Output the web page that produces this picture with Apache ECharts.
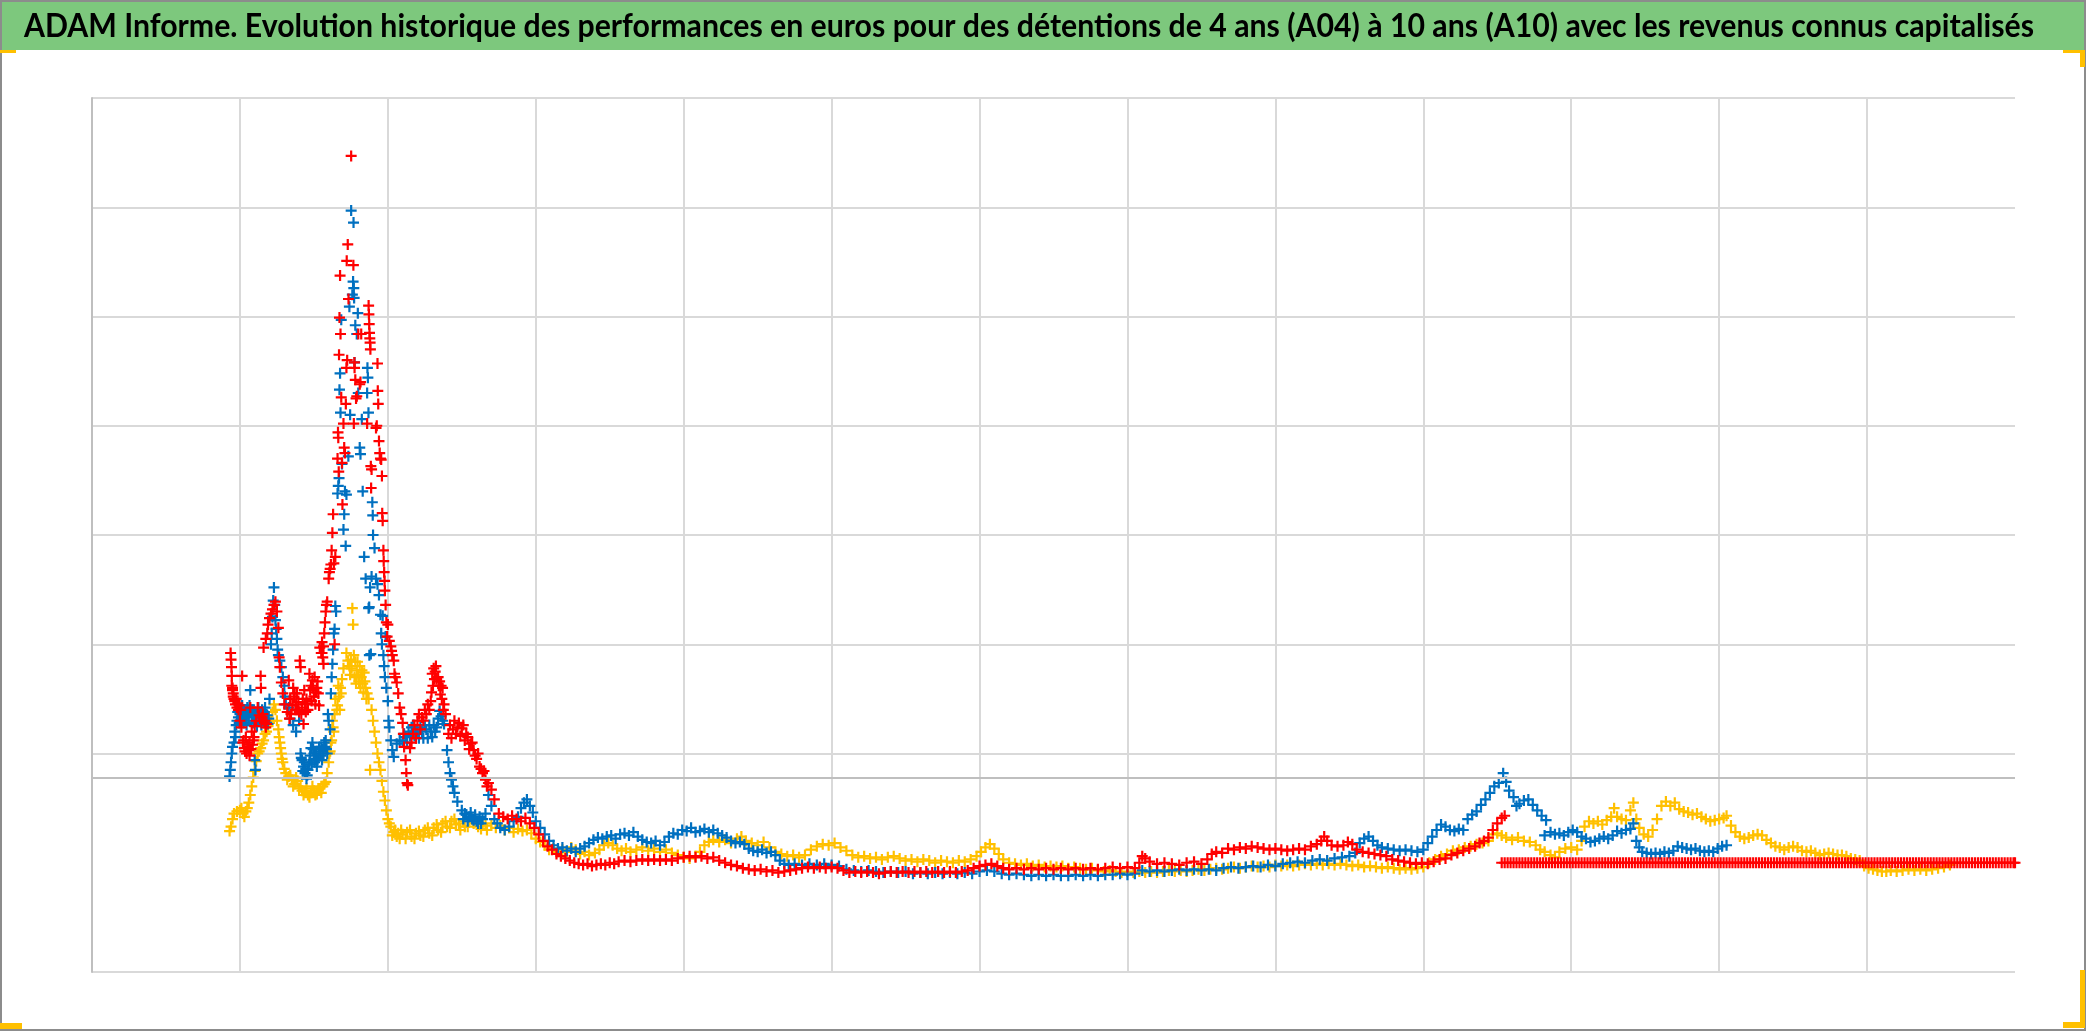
<!DOCTYPE html>
<html>
<head>
<meta charset="utf-8">
<script src="https://cdn.jsdelivr.net/npm/echarts/dist/echarts.min.js"></script>
<style>
html,body{margin:0;padding:0;background:#fff;}
#chart{width:2086px;height:1031px;}
</style>
</head>
<body>
<div id="chart"></div>
<script>
// ---------------- DATA ----------------
const TITLE = "ADAM Informe. Evolution historique des performances en euros pour des détentions de 4 ans (A04) à 10 ans (A10) avec les revenus connus capitalisés";

// value axes (no labels are shown on the reference)
const X_MIN = 0, X_MAX = 13, X_STEP = 1;
const Y_MIN = 0, Y_MAX = 8, Y_STEP = 1;
const BASE_LINE = 1.78;      // darker horizontal reference line
const HIDDEN_GRID_VALUE = 1; // this grid line is not drawn on the reference

const serieNames = ["A04", "A07", "A10"];

const yellowData = [
[0.93,1.29],[0.94,1.33],[0.95,1.40],[0.96,1.45],[0.98,1.47],[1.00,1.48],[1.02,1.45],[1.04,1.47],[1.06,1.55],[1.07,1.62],[1.08,1.70],[1.09,1.78],[1.10,1.84],[1.11,1.93],[1.12,2.00],[1.14,2.05],[1.15,2.09],[1.17,2.18],[1.19,2.25],[1.21,2.30],[1.22,2.38],[1.23,2.45],[1.24,2.40],[1.25,2.30],[1.26,2.22],[1.27,2.10],[1.28,2.00],[1.29,1.92],[1.30,1.86],[1.31,1.82],[1.33,1.79],[1.35,1.76],[1.37,1.72],[1.39,1.75],[1.40,1.68],[1.42,1.66],[1.44,1.65],[1.46,1.62],[1.48,1.64],[1.50,1.66],[1.52,1.63],[1.54,1.68],[1.56,1.70],[1.58,1.74],[1.59,1.82],[1.60,1.92],[1.61,2.02],[1.62,2.12],[1.63,2.24],[1.64,2.36],[1.66,2.44],[1.67,2.52],[1.68,2.60],[1.69,2.68],[1.70,2.78],[1.72,2.92],[1.73,2.85],[1.74,2.80],[1.75,2.86],[1.76,3.33],[1.765,3.18],[1.77,2.90],[1.78,2.84],[1.79,2.76],[1.80,2.72],[1.81,2.80],[1.82,2.70],[1.83,2.64],[1.84,2.74],[1.85,2.60],[1.86,2.55],[1.87,2.50],[1.88,1.85],[1.89,2.40],[1.90,2.30],[1.91,2.20],[1.92,2.10],[1.93,2.00],[1.94,1.92],[1.95,1.85],[1.96,1.75],[1.97,1.65],[1.98,1.57],[1.99,1.48],[2.00,1.40],[2.02,1.33],[2.04,1.28],[2.06,1.24],[2.08,1.22],[2.10,1.26],[2.13,1.28],[2.16,1.24],[2.19,1.27],[2.22,1.25],[2.25,1.30],[2.28,1.27],[2.31,1.32],[2.34,1.30],[2.37,1.36],[2.40,1.33],[2.43,1.38],[2.46,1.35],[2.49,1.30],[2.52,1.33],[2.55,1.39],[2.58,1.36],[2.61,1.33],[2.64,1.35],[2.67,1.30],
[1.01,1.50],[1.03,1.42],[1.05,1.50],[1.13,2.02],[1.16,2.12],[1.18,2.20],[1.20,2.28],[1.265,2.15],[1.275,2.05],[1.285,1.95],[1.32,1.76],[1.34,1.80],[1.36,1.70],[1.38,1.78],
[1.41,1.70],[1.43,1.62],[1.45,1.68],[1.47,1.60],[1.49,1.70],[1.51,1.62],[1.53,1.68],[1.55,1.64],[1.57,1.72],
[1.605,2.00],[1.615,2.10],[1.625,2.30],[1.635,2.20],[1.645,2.50],[1.655,2.40],[1.665,2.62],[1.675,2.40],[1.685,2.55],
[1.745,2.72],[1.755,2.78],[1.775,2.70],[1.785,2.64],[1.795,2.84],[1.805,2.66],[1.815,2.60],[1.825,2.76],[1.835,2.56],[1.845,2.66],[1.855,2.50],
[2.01,1.36],[2.03,1.25],[2.05,1.30],[2.07,1.27],[2.09,1.30],[2.12,1.22],[2.15,1.30],[2.18,1.22],[2.21,1.29],[2.24,1.24],[2.27,1.32],[2.30,1.25],[2.33,1.35],[2.36,1.28],[2.39,1.38],[2.42,1.32],[2.45,1.40],[2.48,1.36],[2.51,1.38],[2.54,1.33],[2.57,1.40],[2.60,1.38],[2.63,1.31],[2.66,1.34],
[2.70,1.36],[2.73,1.32],[2.76,1.34],[2.79,1.30],[2.82,1.32],[2.85,1.28],[2.88,1.31],[2.91,1.29],[2.94,1.30],[2.97,1.27],[3.00,1.22],[3.03,1.19],[3.06,1.16],[3.09,1.12],[3.12,1.13],[3.15,1.10],[3.18,1.12],[3.21,1.10],[3.24,1.14],[3.27,1.12],[3.30,1.08],[3.33,1.10],[3.36,1.07],[3.40,1.09],[3.43,1.12],[3.46,1.16],[3.49,1.18],[3.52,1.16],[3.55,1.13],[3.58,1.11],[3.61,1.13],[3.64,1.10],[3.68,1.12],[3.72,1.14],[3.76,1.11],[3.80,1.13],[3.84,1.10],[3.88,1.12],[3.92,1.09],[3.96,1.07],[4.00,1.05],[4.04,1.04],[4.08,1.06],[4.11,1.10],[4.14,1.16],[4.17,1.19],[4.20,1.21],[4.24,1.19],[4.28,1.21],[4.32,1.18],[4.36,1.22],[4.39,1.24],[4.42,1.20],[4.46,1.18],[4.50,1.16],[4.54,1.19],[4.58,1.14],[4.62,1.10],[4.66,1.08],[4.70,1.06],[4.74,1.07],[4.78,1.05],[4.82,1.07],[4.86,1.12],[4.90,1.15],[4.94,1.17],[4.98,1.16],[5.02,1.18],[5.06,1.14],[5.10,1.11],[5.14,1.07],[5.18,1.05],[5.22,1.06],[5.26,1.04],[5.30,1.05],[5.34,1.03],[5.38,1.05],[5.42,1.06],[5.46,1.04],[5.50,1.02],[5.54,1.03],[5.58,1.01],[5.62,1.03],[5.66,1.02],[5.70,1.00],[5.74,1.02],[5.78,1.01],[5.82,1.00],[5.86,1.02],[5.90,1.01],[5.94,1.03],[5.98,1.06],[6.01,1.10],[6.04,1.14],[6.07,1.17],[6.10,1.13],[6.13,1.08],[6.16,1.03],[6.20,1.00],[6.24,0.99],[6.28,0.98],[6.32,0.99],[6.36,0.97],[6.40,0.98],[6.44,0.96],[6.48,0.97],[6.52,0.96],[6.56,0.97],[6.60,0.95],[6.64,0.96],[6.68,0.95],[6.72,0.94],[6.76,0.95],[6.80,0.93],[6.84,0.92],[6.88,0.93],[6.92,0.92],[6.96,0.91],[7.00,0.92],[7.04,0.91],[7.08,0.92],[7.12,0.91],[7.16,0.92],[7.20,0.91],[7.24,0.92],[7.28,0.93],[7.32,0.92],[7.36,0.93],[7.40,0.92],[7.44,0.93],[7.48,0.94],[7.52,0.93],[7.56,0.94],[7.60,0.95],[7.64,0.94],[7.68,0.95],[7.72,0.96],[7.76,0.95],[7.80,0.96],[7.84,0.97],[7.88,0.96],[7.92,0.97],[7.96,0.96],[8.00,0.98],[8.04,0.97],[8.08,0.98],[8.12,0.97],[8.16,0.98],[8.20,0.99],[8.24,0.98],[8.28,0.99],[8.32,0.98],[8.36,0.99],[8.40,0.98],[8.44,0.99],[8.48,0.98],[8.52,0.97],[8.56,0.98],[8.60,0.96],[8.64,0.97],[8.68,0.96],[8.72,0.95],[8.76,0.96],[8.80,0.95],[8.84,0.94],[8.88,0.95],[8.92,0.94],[8.96,0.95],[9.00,0.96],[9.04,1.00],[9.08,1.03],[9.12,1.06],[9.16,1.08],[9.20,1.11],[9.24,1.12],[9.28,1.14],[9.32,1.15],[9.36,1.17],[9.40,1.18],[9.44,1.20],[9.47,1.26],[9.50,1.27],[9.53,1.25],[9.56,1.23],[9.60,1.21],[9.64,1.23],[9.68,1.20],[9.72,1.19],[9.76,1.16],[9.79,1.12],[9.82,1.10],[9.86,1.07],[9.89,1.05],[9.92,1.10],[9.96,1.13],[10.00,1.14],[10.04,1.12],[10.07,1.20],[10.09,1.33],[10.12,1.38],[10.15,1.36],[10.18,1.38],[10.21,1.35],[10.24,1.39],[10.27,1.42],[10.29,1.50],[10.31,1.42],[10.34,1.40],[10.37,1.39],[10.40,1.48],[10.42,1.55],[10.44,1.40],[10.46,1.32],[10.49,1.26],[10.52,1.24],[10.55,1.30],[10.58,1.40],[10.61,1.52],[10.64,1.56],[10.67,1.52],[10.70,1.55],[10.73,1.49],[10.76,1.47],[10.79,1.46],[10.82,1.44],[10.85,1.45],[10.88,1.42],[10.91,1.40],[10.94,1.38],[10.97,1.39],[11.00,1.40],[11.03,1.41],[11.05,1.43],[11.08,1.34],[11.11,1.28],[11.14,1.24],[11.17,1.22],[11.20,1.23],[11.23,1.25],[11.26,1.26],[11.29,1.25],[11.32,1.21],[11.35,1.18],[11.38,1.15],[11.41,1.14],[11.44,1.12],[11.47,1.14],[11.50,1.15],[11.53,1.14],[11.56,1.11],[11.59,1.10],[11.62,1.11],[11.65,1.09],[11.68,1.07],[11.71,1.08],[11.74,1.09],[11.77,1.08],[11.80,1.07],[11.83,1.07],[11.86,1.06],[11.89,1.04],[11.92,1.03],[11.95,1.02],[11.98,0.97],[12.01,0.95],[12.04,0.94],[12.07,0.93],[12.10,0.92],[12.13,0.92],[12.16,0.93],[12.20,0.92],[12.24,0.93],[12.28,0.94],[12.32,0.93],[12.36,0.94],[12.40,0.93],[12.44,0.94],[12.48,0.95],[12.52,0.96],[12.56,0.98]
];

const blueData = [
[0.93,1.79],[0.935,1.85],[0.94,1.92],[0.945,2.00],[0.95,2.06],[0.96,2.10],[0.97,2.15],[0.98,2.30],[0.99,2.33],[1.00,2.36],[1.01,2.38],[1.02,2.32],[1.03,2.40],[1.04,2.35],[1.05,2.42],[1.06,2.30],[1.07,2.58],[1.075,2.38],[1.08,2.33],[1.09,2.28],[1.10,1.94],[1.105,1.85],[1.11,2.30],[1.12,2.36],[1.13,2.30],[1.14,2.34],[1.15,2.40],[1.16,2.31],[1.17,2.42],[1.18,2.28],[1.19,2.27],[1.20,2.50],[1.21,3.00],[1.215,3.10],[1.22,3.25],[1.225,3.40],[1.23,3.52],[1.235,3.36],[1.24,3.22],[1.245,3.14],[1.25,3.05],[1.255,2.95],[1.26,2.90],[1.27,2.85],[1.28,2.79],[1.29,2.70],[1.30,2.62],[1.305,2.52],[1.31,2.45],[1.33,2.42],[1.34,2.32],[1.36,2.26],[1.38,2.20],[1.40,2.30],[1.41,2.00],[1.42,1.94],[1.43,1.88],[1.44,1.82],[1.45,1.77],[1.46,1.85],[1.47,1.92],[1.48,2.05],[1.49,2.10],[1.50,2.00],[1.51,1.95],[1.52,1.88],[1.53,1.96],[1.54,2.02],[1.55,2.06],[1.56,2.04],[1.57,2.10],[1.58,2.12],[1.59,2.00],[1.595,2.36],[1.60,2.30],[1.61,2.22],[1.615,2.55],[1.62,2.70],[1.625,2.82],[1.63,2.95],[1.635,3.10],[1.64,3.14],[1.645,3.35],[1.65,3.30],[1.66,4.38],[1.665,4.45],[1.67,4.52],[1.673,5.33],[1.677,5.48],[1.68,5.12],[1.685,5.97],[1.69,4.65],[1.70,4.05],[1.705,4.19],[1.71,4.40],[1.715,3.90],[1.72,4.37],[1.733,4.72],[1.74,6.09],[1.745,5.10],[1.752,6.97],[1.76,6.20],[1.765,6.32],[1.768,6.86],[1.77,6.26],[1.772,6.17],[1.775,5.58],[1.78,5.92],[1.79,5.84],[1.797,6.03],[1.80,5.30],[1.81,4.80],[1.815,4.74],[1.824,5.06],[1.83,4.40],[1.84,3.80],[1.85,3.60],[1.86,5.30],[1.862,5.53],[1.865,5.44],[1.869,5.12],[1.87,3.33],[1.874,3.34],[1.875,2.90],[1.88,3.52],[1.885,2.91],[1.89,3.62],[1.895,4.30],[1.898,4.18],[1.90,4.00],[1.91,3.88],[1.92,3.60],[1.93,3.55],[1.94,3.45],[1.95,3.27],[1.955,3.10],[1.96,3.00],[1.965,3.26],[1.97,2.90],[1.975,2.80],[1.98,2.70],[1.985,3.07],[1.99,2.60],[2.00,2.48],[2.005,2.30],[2.01,2.24],[2.02,2.12],[2.03,2.03],[2.04,1.97],[2.06,2.09],[2.08,2.12],[2.10,2.11],[2.12,2.15],[2.14,2.20],[2.16,2.24],[2.18,2.16],[2.20,2.20],[2.22,2.24],[2.24,2.14],[2.26,2.22],[2.28,2.26],[2.30,2.15],[2.32,2.20],[2.34,2.32],[2.35,2.39],[2.37,2.30],[2.38,2.27],[2.40,2.03],[2.41,1.92],[2.42,1.82],[2.43,1.76],[2.44,1.70],[2.45,1.64],[2.47,1.56],[2.50,1.48],[2.52,1.45],[2.55,1.42],[2.58,1.39],[2.61,1.36],[2.64,1.40],[2.66,1.45],[2.68,1.62],[2.70,1.52],[2.72,1.40],[2.74,1.36],[2.76,1.32],[2.79,1.30],[2.82,1.33],[2.85,1.38],[2.88,1.42],[2.90,1.50],[2.92,1.55],[2.94,1.58],[2.96,1.52],[2.98,1.46],
[0.965,2.20],[0.975,2.26],[0.985,2.38],[0.995,2.28],[1.005,2.30],[1.015,2.44],[1.025,2.28],[1.035,2.34],[1.045,2.26],[1.055,2.36],[1.065,2.44],[1.085,2.40],[1.095,2.35],[1.115,2.25],[1.125,2.42],[1.135,2.38],[1.145,2.26],[1.155,2.33],[1.165,2.38],[1.185,2.35],[1.195,2.32],
[1.415,1.96],[1.425,1.84],[1.435,1.92],[1.445,1.86],[1.455,1.80],[1.465,1.90],[1.475,1.98],[1.485,1.90],[1.495,2.04],[1.505,1.92],[1.515,2.00],[1.525,1.94],[1.535,2.06],[1.545,1.98],[1.555,1.94],[1.565,2.00],[1.575,2.06],[1.585,2.04],
[2.11,2.18],[2.13,2.10],[2.15,2.16],[2.17,2.26],[2.19,2.20],[2.21,2.14],[2.23,2.20],[2.25,2.26],[2.27,2.14],[2.29,2.20],[2.31,2.26],[2.33,2.24],[2.36,2.34],
[2.51,1.40],[2.53,1.44],[2.54,1.38],[2.56,1.46],[2.57,1.40],[2.59,1.44],[2.60,1.38],[2.62,1.42],[2.63,1.36],
[3.00,1.38],[3.03,1.32],[3.06,1.26],[3.09,1.20],[3.12,1.16],[3.15,1.13],[3.18,1.14],[3.21,1.11],[3.24,1.13],[3.27,1.10],[3.30,1.13],[3.33,1.15],[3.36,1.18],[3.39,1.21],[3.42,1.23],[3.45,1.22],[3.48,1.24],[3.51,1.25],[3.54,1.22],[3.57,1.26],[3.60,1.27],[3.63,1.25],[3.66,1.28],[3.69,1.24],[3.72,1.21],[3.75,1.19],[3.78,1.18],[3.81,1.20],[3.84,1.16],[3.87,1.19],[3.90,1.24],[3.93,1.27],[3.96,1.26],[3.99,1.30],[4.02,1.29],[4.05,1.32],[4.08,1.28],[4.11,1.29],[4.14,1.31],[4.17,1.28],[4.20,1.30],[4.23,1.27],[4.26,1.25],[4.29,1.23],[4.32,1.20],[4.35,1.18],[4.38,1.19],[4.41,1.17],[4.44,1.13],[4.47,1.11],[4.50,1.10],[4.53,1.12],[4.56,1.09],[4.59,1.10],[4.62,1.07],[4.65,1.02],[4.68,0.99],[4.71,0.98],[4.75,0.99],[4.80,0.98],[4.85,0.99],[4.90,0.98],[4.95,0.99],[5.00,0.98],[5.05,0.97],[5.10,0.94],[5.15,0.93],[5.20,0.92],[5.25,0.93],[5.30,0.92],[5.35,0.91],[5.40,0.92],[5.45,0.91],[5.50,0.92],[5.55,0.90],[5.60,0.91],[5.65,0.90],[5.70,0.91],[5.75,0.90],[5.80,0.91],[5.85,0.90],[5.90,0.91],[5.95,0.90],[6.00,0.92],[6.05,0.93],[6.10,0.92],[6.15,0.90],[6.20,0.89],[6.25,0.90],[6.30,0.89],[6.35,0.88],[6.40,0.89],[6.45,0.88],[6.50,0.89],[6.55,0.88],[6.60,0.88],[6.65,0.89],[6.70,0.88],[6.75,0.89],[6.80,0.88],[6.85,0.89],[6.90,0.89],[6.95,0.90],[7.00,0.89],[7.05,0.90],[7.10,0.93],[7.15,0.92],[7.20,0.93],[7.25,0.92],[7.30,0.93],[7.35,0.94],[7.40,0.93],[7.45,0.94],[7.50,0.93],[7.55,0.94],[7.60,0.93],[7.65,0.95],[7.70,0.96],[7.75,0.95],[7.80,0.96],[7.85,0.97],[7.90,0.96],[7.95,0.98],[8.00,0.97],[8.05,0.99],[8.10,1.00],[8.15,1.01],[8.20,1.00],[8.25,1.02],[8.30,1.03],[8.35,1.02],[8.40,1.04],[8.45,1.05],[8.50,1.06],[8.54,1.09],[8.57,1.18],[8.60,1.22],[8.63,1.24],[8.66,1.20],[8.69,1.16],[8.72,1.14],[8.76,1.13],[8.80,1.12],[8.84,1.11],[8.88,1.12],[8.92,1.11],[8.96,1.10],[9.00,1.12],[9.03,1.18],[9.06,1.24],[9.09,1.30],[9.12,1.35],[9.15,1.33],[9.18,1.30],[9.21,1.29],[9.24,1.31],[9.27,1.30],[9.30,1.40],[9.33,1.44],[9.36,1.47],[9.39,1.53],[9.42,1.58],[9.45,1.64],[9.48,1.70],[9.51,1.73],[9.54,1.82],[9.56,1.74],[9.58,1.66],[9.61,1.60],[9.63,1.52],[9.65,1.54],[9.68,1.57],[9.71,1.58],[9.74,1.53],[9.77,1.48],[9.80,1.43],[9.82,1.25],[9.83,1.39],[9.86,1.28],[9.89,1.26],[9.92,1.27],[9.95,1.25],[9.98,1.28],[10.01,1.30],[10.04,1.28],[10.07,1.24],[10.10,1.22],[10.13,1.19],[10.16,1.20],[10.19,1.22],[10.22,1.24],[10.25,1.22],[10.28,1.25],[10.31,1.29],[10.34,1.27],[10.37,1.30],[10.40,1.31],[10.42,1.36],[10.44,1.20],[10.46,1.14],[10.48,1.10],[10.51,1.09],[10.54,1.08],[10.57,1.09],[10.60,1.08],[10.63,1.10],[10.66,1.09],[10.69,1.11],[10.72,1.15],[10.75,1.14],[10.78,1.13],[10.81,1.12],[10.84,1.13],[10.87,1.11],[10.90,1.10],[10.93,1.11],[10.96,1.10],[10.99,1.13],[11.02,1.15],[11.05,1.16]
];

const redData = [
[0.937,2.92],[0.94,2.86],[0.943,2.79],[0.945,2.71],[0.95,2.60],[0.955,2.55],[0.96,2.50],[0.97,2.45],[0.98,2.42],[0.99,2.40],[1.00,2.30],[1.01,2.24],[1.015,2.71],[1.02,2.10],[1.03,2.05],[1.04,2.15],[1.05,2.08],[1.06,2.03],[1.07,2.42],[1.08,2.20],[1.09,2.12],[1.10,2.25],[1.11,2.30],[1.12,2.42],[1.13,2.35],[1.14,2.71],[1.142,2.60],[1.15,2.33],[1.16,2.97],[1.17,2.30],[1.175,3.05],[1.18,2.27],[1.185,3.10],[1.19,3.18],[1.20,3.24],[1.21,3.28],[1.22,3.32],[1.23,3.36],[1.24,3.39],[1.25,3.30],[1.26,3.15],[1.265,2.88],[1.27,2.79],[1.28,2.65],[1.29,2.55],[1.30,2.45],[1.32,2.38],[1.33,2.67],[1.335,2.32],[1.34,2.50],[1.36,2.60],[1.37,2.55],[1.38,2.45],[1.39,2.40],[1.40,2.38],[1.405,2.85],[1.41,2.79],[1.42,2.42],[1.43,2.27],[1.44,2.45],[1.45,2.50],[1.46,2.40],[1.47,2.73],[1.48,2.62],[1.49,2.67],[1.50,2.52],[1.51,2.45],[1.52,2.60],[1.53,2.55],[1.54,2.97],[1.55,2.92],[1.555,3.02],[1.56,2.88],[1.565,2.82],[1.57,3.10],[1.575,3.20],[1.58,3.30],[1.585,3.36],[1.59,3.39],[1.60,3.60],[1.605,3.66],[1.61,3.69],[1.615,3.73],[1.62,3.86],[1.625,4.02],[1.63,4.19],[1.635,3.74],[1.64,3.00],[1.645,3.80],[1.66,4.70],[1.663,4.94],[1.665,4.89],[1.668,4.58],[1.67,5.65],[1.673,5.99],[1.677,6.375],[1.68,5.84],[1.685,5.26],[1.69,4.66],[1.693,4.28],[1.70,5.02],[1.705,4.80],[1.71,4.75],[1.716,5.20],[1.72,5.53],[1.722,6.51],[1.725,5.60],[1.729,6.66],[1.734,6.16],[1.752,7.47],[1.767,6.47],[1.77,5.02],[1.774,5.58],[1.775,5.53],[1.78,5.42],[1.785,5.25],[1.79,5.27],[1.80,5.84],[1.81,5.38],[1.815,5.40],[1.82,5.84],[1.86,5.02],[1.87,6.10],[1.872,6.02],[1.874,5.93],[1.876,5.85],[1.878,5.80],[1.88,5.76],[1.882,5.70],[1.885,4.63],[1.887,4.43],[1.89,4.60],[1.92,4.98],[1.925,5.00],[1.93,5.57],[1.932,5.32],[1.935,5.20],[1.94,4.86],[1.945,4.75],[1.95,4.70],[1.955,4.69],[1.96,4.54],[1.962,4.20],[1.965,4.13],[1.97,3.86],[1.972,3.76],[1.975,3.66],[1.978,3.58],[1.98,3.49],[1.985,3.36],[1.99,3.20],[1.995,3.07],[2.00,3.18],[2.01,3.03],[2.02,2.98],[2.025,2.94],[2.03,2.90],[2.04,2.85],[2.045,2.73],[2.05,2.70],[2.06,2.65],[2.07,2.55],[2.08,2.42],[2.09,2.36],[2.10,2.28],[2.105,2.18],[2.11,2.06],[2.12,1.94],[2.125,1.82],[2.13,1.73],[2.135,1.71],[2.15,2.05],[2.17,2.18],[2.20,2.30],[2.23,2.33],[2.25,2.40],[2.27,2.45],[2.29,2.48],[2.30,2.73],[2.31,2.78],[2.32,2.75],[2.33,2.68],[2.34,2.70],[2.35,2.66],[2.36,2.62],[2.37,2.60],[2.38,2.45],[2.39,2.36],[2.41,2.18],[2.44,2.22],[2.47,2.24],[2.50,2.23],[2.53,2.18],[2.56,2.09],[2.58,2.03],[2.60,1.95],[2.62,1.88],[2.64,1.82],[2.66,1.76],[2.68,1.73],[2.70,1.67],[2.72,1.58],[2.75,1.45],[2.78,1.42],[2.81,1.40],[2.84,1.43],[2.87,1.40],[2.90,1.38],[2.93,1.41],[2.96,1.36],[2.99,1.32],[3.02,1.26],[3.05,1.20],[3.08,1.15],[3.11,1.12],[3.14,1.08],[3.17,1.06],
[0.945,2.62],[0.95,2.58],[0.955,2.52],[0.965,2.48],[0.975,2.50],[0.985,2.46],[0.995,2.44],[1.005,2.40],
[1.025,2.12],[1.035,2.02],[1.045,2.00],[1.055,2.06],[1.065,2.10],[1.075,2.04],[1.085,2.08],[1.095,2.15],[1.065,1.98],
[1.145,2.30],[1.155,2.36],[1.165,2.28],[1.175,2.24],
[1.345,2.36],[1.355,2.44],[1.365,2.52],[1.375,2.40],[1.385,2.55],[1.395,2.47],[1.415,2.36],[1.425,2.50],[1.435,2.58],[1.445,2.38],[1.455,2.46],
[1.475,2.58],[1.485,2.48],[1.495,2.60],[1.505,2.70],[1.515,2.56],[1.525,2.66],[1.535,2.44],[1.555,2.92],[1.565,2.98],
[2.16,2.10],[2.18,2.26],[2.19,2.14],[2.21,2.36],[2.22,2.22],[2.24,2.30],[2.26,2.36],[2.28,2.40],[2.295,2.56],[2.305,2.62],[2.315,2.68],[2.325,2.80],[2.345,2.62],[2.355,2.54],[2.365,2.50],[2.375,2.40],
[2.42,2.26],[2.43,2.14],[2.45,2.30],[2.46,2.18],[2.48,2.28],[2.49,2.16],[2.51,2.26],[2.52,2.12],[2.54,2.15],[2.55,2.04],[2.57,2.10],[2.59,1.98],[2.61,2.00],[2.63,1.86],[2.65,1.84],[2.67,1.70],
[3.20,1.04],[3.23,1.02],[3.26,1.00],[3.29,0.99],[3.32,0.98],[3.35,0.99],[3.38,0.97],[3.41,0.98],[3.44,0.99],[3.47,0.98],[3.50,1.00],[3.53,0.99],[3.56,1.01],[3.60,1.02],[3.64,1.01],[3.68,1.02],[3.72,1.03],[3.76,1.02],[3.80,1.03],[3.84,1.02],[3.88,1.03],[3.92,1.02],[3.96,1.04],[4.00,1.05],[4.04,1.06],[4.08,1.05],[4.12,1.06],[4.16,1.04],[4.20,1.05],[4.24,1.02],[4.28,1.00],[4.32,0.98],[4.36,0.97],[4.40,0.95],[4.44,0.94],[4.48,0.93],[4.52,0.94],[4.56,0.92],[4.60,0.93],[4.64,0.91],[4.68,0.92],[4.72,0.93],[4.76,0.94],[4.80,0.95],[4.84,0.96],[4.88,0.95],[4.92,0.96],[4.96,0.95],[5.00,0.96],[5.04,0.95],[5.08,0.93],[5.12,0.91],[5.16,0.92],[5.20,0.91],[5.24,0.92],[5.28,0.91],[5.32,0.90],[5.36,0.91],[5.40,0.92],[5.44,0.91],[5.48,0.92],[5.52,0.91],[5.56,0.92],[5.60,0.91],[5.64,0.92],[5.68,0.91],[5.72,0.92],[5.76,0.91],[5.80,0.92],[5.84,0.91],[5.88,0.92],[5.92,0.93],[5.96,0.95],[6.00,0.97],[6.04,0.98],[6.08,0.99],[6.12,0.97],[6.16,0.95],[6.20,0.94],[6.25,0.95],[6.30,0.94],[6.35,0.95],[6.40,0.94],[6.45,0.95],[6.50,0.94],[6.55,0.95],[6.60,0.94],[6.65,0.95],[6.70,0.94],[6.75,0.95],[6.80,0.94],[6.85,0.95],[6.90,0.96],[6.95,0.95],[7.00,0.96],[7.05,0.95],[7.08,1.00],[7.10,1.06],[7.12,1.04],[7.15,1.01],[7.20,0.99],[7.25,1.00],[7.30,0.99],[7.35,0.98],[7.40,1.00],[7.45,1.01],[7.50,0.99],[7.54,1.03],[7.57,1.08],[7.60,1.10],[7.64,1.09],[7.68,1.13],[7.72,1.12],[7.76,1.14],[7.80,1.13],[7.84,1.15],[7.88,1.14],[7.92,1.13],[7.96,1.12],[8.00,1.13],[8.04,1.12],[8.08,1.11],[8.12,1.12],[8.16,1.13],[8.20,1.12],[8.24,1.15],[8.28,1.17],[8.31,1.20],[8.33,1.24],[8.35,1.20],[8.38,1.16],[8.42,1.15],[8.46,1.16],[8.49,1.19],[8.52,1.17],[8.55,1.12],[8.59,1.10],[8.63,1.09],[8.67,1.08],[8.71,1.07],[8.75,1.06],[8.79,1.03],[8.83,1.02],[8.87,1.01],[8.91,1.00],[8.95,0.99],[8.99,1.00],[9.03,0.99],[9.07,1.01],[9.11,1.03],[9.15,1.04],[9.19,1.07],[9.23,1.09],[9.27,1.11],[9.31,1.13],[9.35,1.15],[9.38,1.18],[9.41,1.20],[9.44,1.23],[9.47,1.30],[9.50,1.36],[9.53,1.41],[9.55,1.43]
];

// flat tail of the red series (constant value)
const redFlat = [
[9.53,1],[9.55,1],[9.57,1],[9.59,1],[9.61,1],[9.63,1],[9.65,1],[9.67,1],[9.69,1],[9.71,1],[9.73,1],[9.75,1],[9.77,1],[9.79,1],[9.81,1],[9.83,1],[9.85,1],[9.87,1],[9.89,1],[9.91,1],[9.93,1],[9.95,1],[9.97,1],[9.99,1],[10.01,1],[10.03,1],[10.05,1],[10.07,1],[10.09,1],[10.11,1],[10.13,1],[10.15,1],[10.17,1],[10.19,1],[10.21,1],[10.23,1],[10.25,1],[10.27,1],[10.29,1],[10.31,1],[10.33,1],[10.35,1],[10.37,1],[10.39,1],[10.41,1],[10.43,1],[10.45,1],[10.47,1],[10.49,1],[10.51,1],[10.53,1],[10.55,1],[10.57,1],[10.59,1],[10.61,1],[10.63,1],[10.65,1],[10.67,1],[10.69,1],[10.71,1],[10.73,1],[10.75,1],[10.77,1],[10.79,1],[10.81,1],[10.83,1],[10.85,1],[10.87,1],[10.89,1],[10.91,1],[10.93,1],[10.95,1],[10.97,1],[10.99,1],[11.01,1],[11.03,1],[11.05,1],[11.07,1],[11.09,1],[11.11,1],[11.13,1],[11.15,1],[11.17,1],[11.19,1],[11.21,1],[11.23,1],[11.25,1],[11.27,1],[11.29,1],[11.31,1],[11.33,1],[11.35,1],[11.37,1],[11.39,1],[11.41,1],[11.43,1],[11.45,1],[11.47,1],[11.49,1],[11.51,1],[11.53,1],[11.55,1],[11.57,1],[11.59,1],[11.61,1],[11.63,1],[11.65,1],[11.67,1],[11.69,1],[11.71,1],[11.73,1],[11.75,1],[11.77,1],[11.79,1],[11.81,1],[11.83,1],[11.85,1],[11.87,1],[11.89,1],[11.91,1],[11.93,1],[11.95,1],[11.97,1],[11.99,1],[12.01,1],[12.03,1],[12.05,1],[12.07,1],[12.09,1],[12.11,1],[12.13,1],[12.15,1],[12.17,1],[12.19,1],[12.21,1],[12.23,1],[12.25,1],[12.27,1],[12.29,1],[12.31,1],[12.33,1],[12.35,1],[12.37,1],[12.39,1],[12.41,1],[12.43,1],[12.45,1],[12.47,1],[12.49,1],[12.51,1],[12.53,1],[12.55,1],[12.57,1],[12.59,1],[12.61,1],[12.63,1],[12.65,1],[12.67,1],[12.69,1],[12.71,1],[12.73,1],[12.75,1],[12.77,1],[12.79,1],[12.81,1],[12.83,1],[12.85,1],[12.87,1],[12.89,1],[12.91,1],[12.93,1],[12.95,1],[12.97,1],[12.99,1],[13.00,1]
];

// ---------------- STYLE ----------------
const COLORS = { yellow: '#FFC000', blue: '#0070C0', red: '#FF0000' };
const PLUS = 'path://M0,4H10V6H0Z M4,0H6V10H4Z';
const SYM = 11;
const FONT = "Lato, 'Open Sans', 'DejaVu Sans', sans-serif";
const TITLE_SIZE = 33;
const TITLE_WIDTH = 2010;

// stretch the title to the width it occupies on the reference
const cv = document.createElement('canvas').getContext('2d');
cv.font = 'bold ' + TITLE_SIZE + 'px ' + FONT;
const titleScale = TITLE_WIDTH / cv.measureText(TITLE).width;

const chart = echarts.init(document.getElementById('chart'), null, { renderer: 'canvas' });

function scatter(name, data, color, extra) {
  return Object.assign({
    name: name,
    type: 'scatter',
    data: data,
    symbol: PLUS,
    symbolSize: SYM,
    itemStyle: { color: color, opacity: 1 },
    silent: true,
    animation: false
  }, extra || {});
}

const yLineColors = [];
for (let v = Y_MIN; v <= Y_MAX; v += Y_STEP) yLineColors.push(v === HIDDEN_GRID_VALUE ? 'rgba(0,0,0,0)' : '#d9d9d9');

chart.setOption({
  animation: false,
  backgroundColor: '#ffffff',
  grid: { left: 92, top: 98, right: 71, bottom: 59 },
  xAxis: {
    type: 'value', min: X_MIN, max: X_MAX, interval: X_STEP,
    axisLine: { show: false }, axisTick: { show: false }, axisLabel: { show: false },
    splitLine: { show: true, showMaxLine: false, lineStyle: { color: '#d9d9d9', width: 2 } }
  },
  yAxis: {
    type: 'value', min: Y_MIN, max: Y_MAX, interval: Y_STEP,
    axisLine: { show: true, lineStyle: { color: '#bfbfbf', width: 2 } },
    axisTick: { show: false }, axisLabel: { show: false },
    splitLine: { show: true, lineStyle: { color: yLineColors, width: 2 } }
  },
  graphic: [
    { type: 'rect', shape: { x: 0, y: 0, width: 2086, height: 50 }, style: { fill: '#7DC87D' }, z: 0 },
    { type: 'rect', shape: { x: 1, y: 1, width: 2084, height: 1029 }, style: { fill: 'none', stroke: '#8c8c8c', lineWidth: 2 }, z: 1 },
    { type: 'text', x: 24, y: 26, scaleX: titleScale, scaleY: 1, style: { text: TITLE, fill: '#000', font: 'bold ' + TITLE_SIZE + 'px ' + FONT, verticalAlign: 'middle', align: 'left' }, z: 2 },
    { type: 'rect', shape: { x: 0, y: 50, width: 16, height: 3 }, style: { fill: '#FFC000' }, z: 2 },
    { type: 'rect', shape: { x: 2063, y: 50, width: 22, height: 3 }, style: { fill: '#FFC000' }, z: 2 },
    { type: 'rect', shape: { x: 2080, y: 50, width: 5, height: 17 }, style: { fill: '#FFC000' }, z: 2 },
    { type: 'rect', shape: { x: 2080, y: 970, width: 5, height: 57 }, style: { fill: '#FFC000' }, z: 2 },
    { type: 'rect', shape: { x: 2063, y: 1022, width: 22, height: 6 }, style: { fill: '#FFC000' }, z: 2 },
    { type: 'rect', shape: { x: 0, y: 1023, width: 22, height: 6 }, style: { fill: '#FFC000' }, z: 2 }
  ],
  series: [
    scatter(serieNames[0], yellowData, COLORS.yellow, {
      markLine: {
        silent: true, symbol: 'none', label: { show: false },
        lineStyle: { color: '#bfbfbf', width: 2, type: 'solid' },
        data: [{ yAxis: BASE_LINE }], animation: false
      }
    }),
    scatter(serieNames[1], blueData, COLORS.blue),
    scatter(serieNames[2], redData.concat(redFlat), COLORS.red)
  ]
});
</script>
</body>
</html>
